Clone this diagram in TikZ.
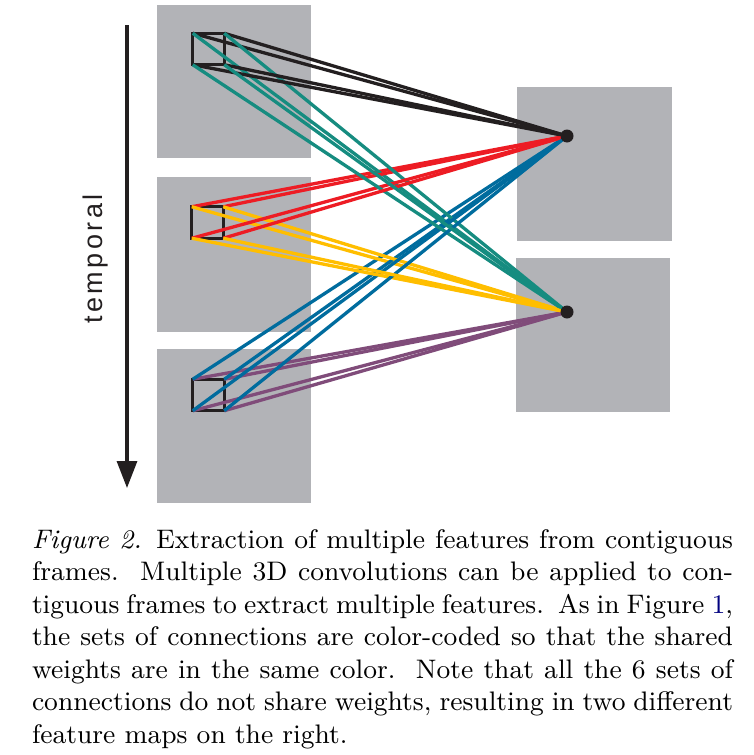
\documentclass[tikz,border=0pt]{standalone}
\usepackage{fontspec}
\newfontfamily\helv{Liberation Sans}
\newfontfamily\capfont{lmroman9-regular.otf}[ItalicFont=lmroman9-italic.otf]
\usetikzlibrary{arrows.meta}
\definecolor{fmgray}{RGB}{178,179,183}
\definecolor{cblack}{RGB}{35,31,32}
\definecolor{cteal}{RGB}{22,140,128}
\definecolor{cred}{RGB}{237,28,36}
\definecolor{cyellow}{RGB}{255,190,0}
\definecolor{cblue}{RGB}{0,108,158}
\definecolor{cpurple}{RGB}{128,76,122}
\definecolor{linkblue}{RGB}{0,0,128}
\newcommand{\capw}{701pt}
\begin{document}
\begin{tikzpicture}[x=1pt,y=-1pt,
  fmap/.style={fill=fmgray, draw=none, inner sep=0, outer sep=0},
  kbox/.style={draw=cblack, line width=3.4pt, minimum size=31.5pt, inner sep=0, outer sep=0},
  fdot/.style={circle, fill=cblack, minimum size=13pt, inner sep=0},
  conn/.style={line width=3.3pt},
  capline/.style={anchor=base west, inner sep=0, outer sep=0, font=\capfont\fontsize{26.8}{32.7}\selectfont}]
\fill[white] (0,0) rectangle (753,755);
\path[use as bounding box] (0,0) rectangle (753,755);
% feature maps
\node[fmap, minimum width=154pt, minimum height=153pt] (L1) at (234,81.5) {};
\node[fmap, minimum width=154pt, minimum height=155pt] (L2) at (234,254.5) {};
\node[fmap, minimum width=154pt, minimum height=154pt] (L3) at (234,426) {};
\node[fmap, minimum width=155pt, minimum height=154pt] (R1) at (594.5,164) {};
\node[fmap, minimum width=154pt, minimum height=154pt] (R2) at (593,335) {};
% kernel boxes
\node[kbox] (b1) at (208.5,49) {};
\node[kbox] (b2) at (207.5,222.5) {};
\node[kbox] (b3) at (208.5,395) {};
% output units
\coordinate (d1) at (567,136);
\coordinate (d2) at (567,312);
% connections
\foreach \c in {north west,north east,south west,south east}{
  \draw[conn, cblack] (b1.\c) -- (d1);
  \draw[conn, cred] (b2.\c) -- (d1);
  \draw[conn, cpurple] (b3.\c) -- (d2);
  \draw[conn, cblue] (b3.\c) -- (d1);
  \draw[conn, cteal] (b1.\c) -- (d2);
  \draw[conn, cyellow] (b2.\c) -- (d2);
}
\node[fdot] (u1) at (d1) {};
\node[fdot] (u2) at (d2) {};
% temporal arrow
\coordinate (atop) at (127,25);
\coordinate (abot) at (127,488);
\draw[line width=3.2pt, cblack, -{Triangle[length=27pt,width=20pt]}] (atop) -- (abot);
\node[rotate=90, inner sep=0, font=\helv\fontsize{27}{32}\selectfont, text=cblack] (tlabel) at (96,259)
  {t\kern3.5pt e\kern3.5pt m\kern3.5pt p\kern3.5pt o\kern3.5pt r\kern3.5pt a\kern3.5pt l};
% caption
\node[capline] (c1) at (32,548) {\makebox[\capw][s]{\textit{Figure 2.} Extraction of multiple features from contiguous}};
\node[capline] (c2) at (32,580.5) {\makebox[\capw][s]{frames.\ \ Multiple 3D convolutions can be applied to con-}};
\node[capline] (c3) at (32,613) {\makebox[\capw][s]{tiguous frames to extract multiple features.\ \ As in Figure {\color{linkblue}1},}};
\node[capline] (c4) at (32,645.5) {\makebox[\capw][s]{the sets of connections are color-coded so that the shared}};
\node[capline] (c5) at (32,678) {\makebox[\capw][s]{weights are in the same color.\ \ Note that all the 6 sets of}};
\node[capline] (c6) at (32,710.5) {\makebox[\capw][s]{connections do not share weights, resulting in two different}};
\node[capline] (c7) at (32,743) {feature maps on the right.};
\end{tikzpicture}
\end{document}
